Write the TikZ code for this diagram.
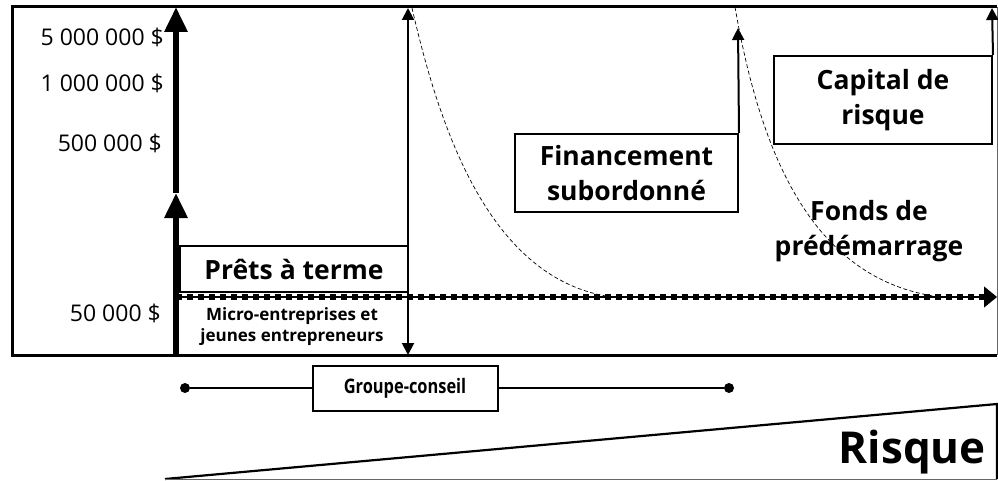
\documentclass[tikz,border=0pt]{standalone}
\usepackage{fontspec}
\setmainfont{Open Sans}
\usetikzlibrary{arrows.meta}
\newcommand{\fsz}[2]{\fontsize{#1}{#2}\selectfont}
\begin{document}
\begin{tikzpicture}[x=1pt,y=-1pt,
  lbl/.style={anchor=east,inner sep=0pt,font=\fsz{23}{28}},
  boxed/.style={draw,line width=2pt,inner sep=0pt,align=center,font=\bfseries\fsz{26.5}{35}},
  plain/.style={inner sep=0pt,align=center},
  thickarr/.style={line width=6pt,-{Triangle[length=25pt,width=22pt]}},
  thinarr/.style={line width=2pt,-{Triangle[length=12pt,width=12pt]}},
  curve/.style={line width=0.7pt,dash pattern=on 4pt off 2.5pt},
  dotend/.style={circle,fill,inner sep=0pt,minimum size=10pt}]
\useasboundingbox (0,0) rectangle (998,481);
% frame
\draw[line width=3pt] (997,7) -- (12,7) -- (12,355) -- (997,355);
\draw[line width=1pt,black!60] (997,7) -- (997,355);
% coordinates
\coordinate (yb) at (176,355);
\coordinate (ymid) at (176,193);
\coordinate (ytop) at (176,7);
\coordinate (vb) at (408,355);
\coordinate (vt) at (408,8);
\coordinate (hl) at (176,297);
\coordinate (hr) at (997,297);
% labels
\node[lbl] (l5m) at (164,37) {5 000 000 \$};
\node[lbl] (l1m) at (164,83) {1 000 000 \$};
\node[lbl] (l500) at (162,143) {500 000 \$};
\node[lbl] (l50) at (161,313) {50 000 \$};
% boxes
\node[boxed,minimum width=228pt,minimum height=46pt] (pret) at (294,269) {Prêts à terme};
\node[plain,font=\bfseries\fsz{17}{21}] (micro) at (292,327) {Micro-entreprises et\\jeunes entrepreneurs};
\node[boxed,minimum width=223pt,minimum height=78pt] (fin) at (626.5,173) {Financement\\subordonné};
\node[boxed,minimum width=218pt,minimum height=88pt] (cap) at (883,100) {Capital de\\risque};
\node[plain,font=\bfseries\fsz{26.5}{35}] (fonds) at (869,231) {Fonds de\\prédémarrage};
\node[boxed,minimum width=185pt,minimum height=45pt,font=\bfseries\fsz{20}{24}] (grp) at (405,388) {\scalebox{0.82}[1]{Groupe-conseil}};
% thick arrows
\draw[thickarr] (yb) -- (ymid);
\draw[thickarr] (ymid) -- (ytop);
% vertical double arrow
\draw[line width=2pt,{Triangle[length=12pt,width=12pt]}-{Triangle[length=12pt,width=12pt]}] (vb) -- (vt);
% dashed curves
\draw[curve] (412,8) .. controls (440,130) and (490,280) .. (612,297);
\draw[curve] (735,7) .. controls (760,150) and (810,280) .. (940,297);
% horizontal dashed arrow
\draw[line width=1.8pt] (hl) -- (985,297);
\draw[line width=5.5pt,dash pattern=on 5.5pt off 5.5pt] (hl) -- (985,297);
\draw[line width=1pt,-{Triangle[length=13pt,width=21pt]}] (980,297) -- (hr);
% box arrows
\coordinate (fint) at (738,28);
\coordinate (capt) at (992,8);
\draw[thinarr] (fin.north east) -- (fint);
\draw[thinarr] (cap.north east) -- (capt);
% groupe-conseil
\node[dotend] (d1) at (185,388) {};
\node[dotend] (d2) at (729,388) {};
\draw[line width=2pt] (d1) -- (grp.west);
\draw[line width=2pt] (grp.east) -- (d2);
% risk triangle
\coordinate (t1) at (165,479);
\coordinate (t2) at (997,404);
\coordinate (t3) at (997,479);
\draw[line width=2.2pt] (t1) -- (t2) -- (t3);
\draw[line width=1pt,black!60] (t3) -- (t1);
\node[anchor=east,inner sep=0pt,font=\bfseries\fsz{44}{50}] (risque) at (986,452) {Risque};
\end{tikzpicture}
\end{document}
